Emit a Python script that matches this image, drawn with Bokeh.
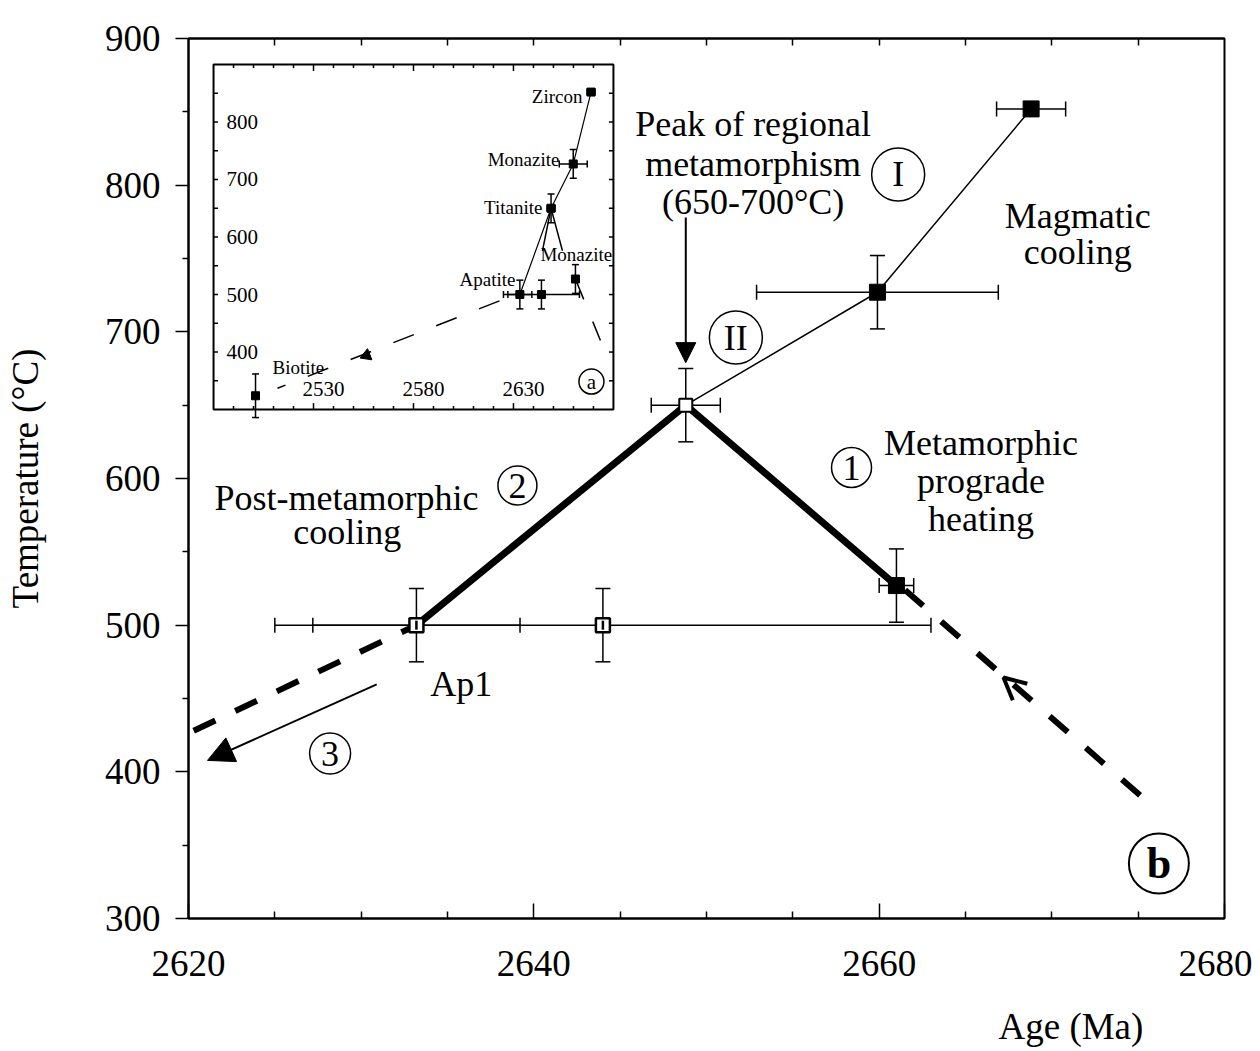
import math
from bokeh.plotting import figure
from bokeh.models import Range1d, FixedTicker, LinearAxis, Arrow, NormalHead, OpenHead, Title
from bokeh.core.properties import value
from bokeh.embed import file_html
from bokeh.resources import INLINE

FONT = "Liberation Serif"

# ---------------- data ----------------
mineral = ["Zircon", "Monazite", "Titanite", "Monazite", "Apatite", "Apatite"]
age = [2668.8, 2659.9, 2648.8, 2661.0, 2633.2, 2644.0]
age_err = [2.0, 7.0, 2.0, 1.0, 6.0, 19.0]
temp = [852.0, 727.0, 650.0, 527.0, 500.0, 500.0]
temp_err = [0.0, 25.0, 25.0, 25.0, 25.0, 25.0]

biotite_age = [2501.0]
biotite_temp = [324.0]
biotite_err = [38.0]

cool_path_age = [2620.3, 2633.2]
cool_path_temp = [428.0, 500.0]
heat_path_age = [2661.5, 2675.6]
heat_path_temp = [524.0, 379.0]
inset_cool_age = [2623.0, 2512.0]
inset_cool_temp = [489.0, 337.0]
inset_heat_age = [2661.0, 2673.5]
inset_heat_temp = [527.0, 420.0]
inset_peak_age = [2644.5, 2648.8, 2654.5]
inset_peak_temp = [576.0, 650.0, 576.0]

arrow3_age = [2630.9, 2621.1]
arrow3_temp = [459.6, 407.8]
peak_arrow_age = [2648.8, 2648.8]
peak_arrow_temp = [778.0, 679.0]
heat_arrow_age = [2668.2, 2667.2]
heat_arrow_temp = [454.0, 464.3]
inset_arrow_age = [2556.5]
inset_arrow_temp = [394.0]

x_major = [2620, 2640, 2660, 2680]
x_minor = [2625, 2630, 2635, 2645, 2650, 2655, 2665, 2670, 2675]
y_major = [300, 400, 500, 600, 700, 800, 900]
y_minor = [350, 450, 550, 650, 750, 850]
inset_x_ticks = [2490, 2500, 2510, 2520, 2530, 2540, 2550, 2560, 2570, 2580,
                 2590, 2600, 2610, 2620, 2630, 2640, 2650, 2660, 2670]
inset_x_major = [2530, 2580, 2630]
inset_y_ticks = [350, 400, 450, 500, 550, 600, 650, 700, 750, 800, 850]
inset_y_labels = [400, 500, 600, 700, 800]

# ---------------- figure ----------------
p = figure(frame_width=1036, frame_height=880,
           x_range=Range1d(2620, 2680), y_range=Range1d(300, 900),
           output_backend="svg", toolbar_location=None,
           min_border_left=188, min_border_top=38, min_border_right=28, min_border_bottom=133)
p.grid.visible = False
p.outline_line_color = "black"
p.outline_line_width = 2
p.background_fill_color = "white"

xa = p.xaxis[0]
xa.ticker = FixedTicker(ticks=x_major, minor_ticks=x_minor)
xa.major_tick_in = 15
xa.major_tick_out = 0
xa.minor_tick_in = 7
xa.minor_tick_out = 0
xa.axis_line_width = 2
xa.major_tick_line_width = 1.5
xa.minor_tick_line_width = 1.5
xa.major_label_standoff = 32
xa.major_label_text_font = FONT
xa.major_label_text_font_size = "37px"
xa.major_label_text_color = "black"

ya = p.yaxis[0]
ya.ticker = FixedTicker(ticks=y_major, minor_ticks=y_minor)
ya.major_tick_in = 0
ya.major_tick_out = 13
ya.minor_tick_in = 0
ya.minor_tick_out = 6
ya.axis_line_width = 2
ya.major_tick_line_width = 1.5
ya.minor_tick_line_width = 1.5
ya.major_label_standoff = 15
ya.major_label_text_font = FONT
ya.major_label_text_font_size = "37px"
ya.major_label_text_color = "black"
ya.axis_label = "Temperature (°C)"
ya.axis_label_text_font = FONT
ya.axis_label_text_font_size = "37px"
ya.axis_label_text_font_style = "normal"
ya.axis_label_text_color = "black"
ya.axis_label_standoff = 56

top = LinearAxis(ticker=FixedTicker(ticks=[], minor_ticks=x_minor + [2640, 2660]))
top.major_tick_in = 0
top.major_tick_out = 0
top.minor_tick_in = 7
top.minor_tick_out = 0
top.axis_line_width = 2
top.minor_tick_line_width = 1.5
top.major_label_text_font_size = "1px"
p.add_layout(top, "above")

p.add_layout(Title(text="Age (Ma)", align="left", offset=810, standoff=50,
                   text_font=FONT, text_font_size="37px", text_font_style="normal",
                   text_color="black"), "below")

# ---------------- main data ----------------
def error_bars(api, xs, ys, xe, ye, cap, lw):
    vx = [x for x, e in zip(xs, ye) if e > 0]
    vy0 = [y - e for y, e in zip(ys, ye) if e > 0]
    vy1 = [y + e for y, e in zip(ys, ye) if e > 0]
    api.segment(x0=vx, y0=vy0, x1=vx, y1=vy1, line_color="black", line_width=lw)
    api.scatter(x=vx + vx, y=vy0 + vy1, marker="dash", size=cap, line_color="black", line_width=lw)
    hy = [y for y, e in zip(ys, xe) if e > 0]
    hx0 = [x - e for x, e in zip(xs, xe) if e > 0]
    hx1 = [x + e for x, e in zip(xs, xe) if e > 0]
    api.segment(x0=hx0, y0=hy, x1=hx1, y1=hy, line_color="black", line_width=lw)
    api.scatter(x=hx0 + hx1, y=hy + hy, marker="dash", angle=math.pi / 2, size=cap,
                line_color="black", line_width=lw)

error_bars(p, age, temp, age_err, temp_err, 15, 1.5)

thick = [4, 2, 3]
thin = [2, 1, 0]
p.line([age[i] for i in thick], [temp[i] for i in thick], line_color="black", line_width=7)
p.line([age[i] for i in thin], [temp[i] for i in thin], line_color="black", line_width=1.5)
p.line(cool_path_age, cool_path_temp, line_color="black", line_width=6, line_dash="24 22")
p.line(heat_path_age, heat_path_temp, line_color="black", line_width=6, line_dash="24 24")

filled = [0, 1, 3]
p.scatter([age[i] for i in filled], [temp[i] for i in filled], marker="square", size=16,
          fill_color="black", line_color="black")
p.scatter([age[2]], [temp[2]], marker="square", size=13, fill_color="white",
          line_color="black", line_width=2)
ap = [4, 5]
p.scatter([age[i] for i in ap], [temp[i] for i in ap], marker="square", size=14,
          fill_color="white", line_color="black", line_width=2.5)
p.scatter([age[i] for i in ap], [temp[i] for i in ap], marker="dash", angle=math.pi / 2,
          size=9, line_color="black", line_width=2.5)

p.add_layout(Arrow(x_start=arrow3_age[0], y_start=arrow3_temp[0],
                   x_end=arrow3_age[1], y_end=arrow3_temp[1], line_width=2,
                   end=NormalHead(size=26, fill_color="black", line_color="black")))
p.add_layout(Arrow(x_start=peak_arrow_age[0], y_start=peak_arrow_temp[0],
                   x_end=peak_arrow_age[1], y_end=peak_arrow_temp[1], line_width=2,
                   end=NormalHead(size=20, fill_color="black", line_color="black")))
p.add_layout(Arrow(x_start=heat_arrow_age[0], y_start=heat_arrow_temp[0],
                   x_end=heat_arrow_age[1], y_end=heat_arrow_temp[1], line_alpha=0,
                   end=OpenHead(size=22, line_width=4, line_color="black")))

# ---------------- main texts ----------------
txt = ["Peak of regional", "metamorphism", "(650-700°C)", "Magmatic", "cooling",
       "Metamorphic", "prograde", "heating", "Post-metamorphic", "cooling", "Ap1"]
txt_x = [2652.7, 2652.7, 2652.7, 2671.5, 2671.5, 2665.9, 2665.9, 2665.9, 2629.15, 2629.2, 2635.8]
txt_y = [842.0, 814.5, 788.5, 779.3, 754.1, 624.5, 598.6, 572.7, 587.0, 563.2, 460.2]
p.text(x=txt_x, y=txt_y, text=txt, text_font=value(FONT), text_font_size="36px",
       text_align="center", text_baseline="alphabetic", text_color="black")

circ_txt = ["I", "II", "1", "2", "3"]
circ_x = [2661.1, 2651.7, 2658.4, 2639.05, 2628.2]
circ_y = [807.3, 696.1, 607.5, 595.2, 412.5]
circ_size = [53, 53, 40, 39, 41]
p.scatter(circ_x, circ_y, marker="circle", size=circ_size, fill_color=None,
          line_color="black", line_width=1.5)
p.text(x=circ_x, y=circ_y, text=circ_txt, text_font=value(FONT), text_font_size="36px",
       text_align="center", text_baseline="middle", text_color="black")

p.scatter([2676.2], [337.5], marker="circle", size=60, fill_color=None, line_color="black",
          line_width=2)
p.text(x=[2676.2], y=[337.5], text=["b"], text_font=value(FONT), text_font_size="44px",
       text_font_style="bold", text_align="center", text_baseline="middle", text_color="black")

# ---------------- inset (a) ----------------
ins = p.subplot(x_source=Range1d(2480, 2680), y_source=Range1d(300, 900),
                x_target=Range1d(2621.45, 2644.61), y_target=Range1d(647.0, 882.3))
ins.quad(left=[2480], right=[2680], bottom=[300], top=[900], fill_color="white",
         line_color="black", line_width=2)

PXX = 2.0     # inset pixels per Ma
PXY = 0.575   # inset pixels per degree
tl_x = [3.5 / PXY if t not in inset_x_major else 6.5 / PXY for t in inset_x_ticks]
ins.segment(x0=inset_x_ticks, y0=[900] * len(inset_x_ticks), x1=inset_x_ticks,
            y1=[900 - l for l in tl_x], line_color="black", line_width=1.5)
ins.segment(x0=inset_x_ticks, y0=[300] * len(inset_x_ticks), x1=inset_x_ticks,
            y1=[300 + l for l in tl_x], line_color="black", line_width=1.5)
ins.segment(x0=[2480] * len(inset_y_ticks), y0=inset_y_ticks,
            x1=[2480 + 4.5 / PXX] * len(inset_y_ticks), y1=inset_y_ticks,
            line_color="black", line_width=1.5)
ins.segment(x0=[2680] * len(inset_y_ticks), y0=inset_y_ticks,
            x1=[2680 - 4.5 / PXX] * len(inset_y_ticks), y1=inset_y_ticks,
            line_color="black", line_width=1.5)
ins.text(x=[2486.5] * len(inset_y_labels), y=inset_y_labels, text=[str(v) for v in inset_y_labels],
         text_font=value(FONT), text_font_size="21px", text_align="left", text_baseline="middle",
         text_color="black")
ins.text(x=inset_x_major, y=[336.5] * len(inset_x_major), text=[str(v) for v in inset_x_major],
         x_offset=10, text_font=value(FONT), text_font_size="21px", text_align="center",
         text_baseline="middle", text_color="black")

error_bars(ins, age, temp, age_err, temp_err, 7, 1.5)
error_bars(ins, biotite_age, biotite_temp, [0.0], biotite_err, 7, 1.5)
ins_path = [4, 2, 1, 0]
ins.line([age[i] for i in ins_path], [temp[i] for i in ins_path], line_color="black", line_width=1.2)
ins.line(inset_peak_age, inset_peak_temp, line_color="black", line_width=1.5)
ins.line(inset_cool_age, inset_cool_temp, line_color="black", line_width=1.5, line_dash="22 24")
ins.line(inset_heat_age, inset_heat_temp, line_color="black", line_width=1.5, line_dash="22 24")
ins.scatter(age, temp, marker="square", size=8, fill_color="black", line_color="black")
ins.scatter(biotite_age, biotite_temp, marker="square", size=8, fill_color="black", line_color="black")
ang = math.atan2((inset_cool_temp[1] - inset_cool_temp[0]) * PXY,
                 (inset_cool_age[1] - inset_cool_age[0]) * PXX) - math.pi / 2
ins.scatter(inset_arrow_age, inset_arrow_temp, marker="triangle", size=12, angle=ang,
            fill_color="black", line_color="black")

ins_lbl = ["Zircon", "Monazite", "Titanite", "Apatite"]
ins_lbl_x = [2664.5, 2653.0, 2644.5, 2631.0]
ins_lbl_y = [844.9, 734.0, 650.8, 525.6]
ins.text(x=ins_lbl_x, y=ins_lbl_y, text=ins_lbl, text_font=value(FONT), text_font_size="19px",
         text_align="right", text_baseline="alphabetic", text_color="black")
ins_lbl2 = ["Monazite", "Biotite"]
ins_lbl2_x = [2643.5, 2509.5]
ins_lbl2_y = [569.6, 373.6]
ins.text(x=ins_lbl2_x, y=ins_lbl2_y, text=ins_lbl2, text_font=value(FONT), text_font_size="19px",
         text_align="left", text_baseline="alphabetic", text_color="black")
ins.scatter([2669.0], [348.7], marker="circle", size=25, fill_color=None, line_color="black",
            line_width=1.5)
ins.text(x=[2669.0], y=[348.7], text=["a"], text_font=value(FONT), text_font_size="21px",
         text_align="center", text_baseline="middle", text_color="black")

open("out.html", "w").write(file_html(p, INLINE))
